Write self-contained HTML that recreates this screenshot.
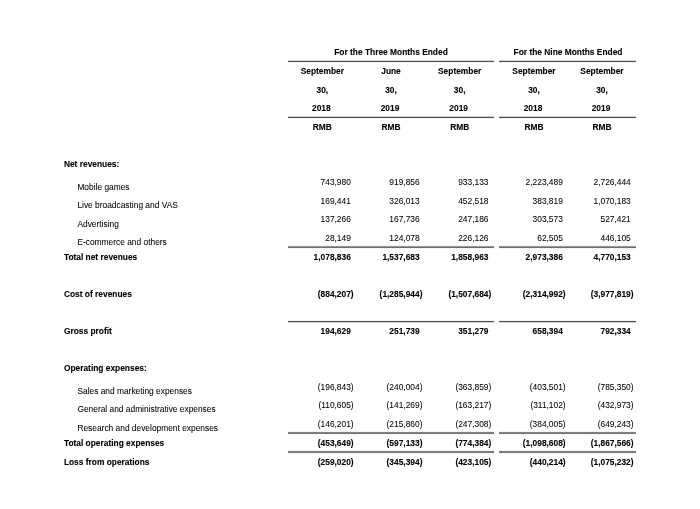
<!DOCTYPE html>
<html><head><meta charset="utf-8"><style>
html,body{margin:0;padding:0;background:#fff;-webkit-font-smoothing:antialiased;width:700px;height:509px;overflow:hidden}
.t{position:absolute;font-family:"Liberation Sans",sans-serif;font-size:8.4px;line-height:10px;white-space:nowrap;color:#000}
.b{font-weight:bold;-webkit-text-stroke:0.1px #000}
.r{font-weight:normal;color:#000;-webkit-text-stroke:0.06px #000}
.h{visibility:hidden}
.ln{position:absolute}
#w{position:absolute;left:0;top:0;width:700px;height:509px;will-change:transform}
</style></head><body><div id="w">
<div class="t b" style="left:291.00px;width:200px;text-align:center;top:47.00px;">For the Three Months Ended</div>
<div class="t b" style="left:468.00px;width:200px;text-align:center;top:47.00px;">For the Nine Months Ended</div>
<div class="ln" style="left:288px;width:206.0px;top:60px;height:1px;background:#d4d4d4"></div>
<div class="ln" style="left:288px;width:206.0px;top:61px;height:1px;background:#505050"></div>
<div class="ln" style="left:288px;width:206.0px;top:62px;height:1px;background:#f0f0f0"></div>
<div class="ln" style="left:499px;width:137.4px;top:60px;height:1px;background:#d4d4d4"></div>
<div class="ln" style="left:499px;width:137.4px;top:61px;height:1px;background:#505050"></div>
<div class="ln" style="left:499px;width:137.4px;top:62px;height:1px;background:#f0f0f0"></div>
<div class="t b" style="left:222.30px;width:200px;text-align:center;top:66.00px;">September</div>
<div class="t b" style="left:291.00px;width:200px;text-align:center;top:66.00px;">June</div>
<div class="t b" style="left:359.70px;width:200px;text-align:center;top:66.00px;">September</div>
<div class="t b" style="left:434.00px;width:200px;text-align:center;top:66.00px;">September</div>
<div class="t b" style="left:502.00px;width:200px;text-align:center;top:66.00px;">September</div>
<div class="t b" style="left:222.30px;width:200px;text-align:center;top:85.00px;">30,</div>
<div class="t b" style="left:291.00px;width:200px;text-align:center;top:85.00px;">30,</div>
<div class="t b" style="left:359.70px;width:200px;text-align:center;top:85.00px;">30,</div>
<div class="t b" style="left:434.00px;width:200px;text-align:center;top:85.00px;">30,</div>
<div class="t b" style="left:502.00px;width:200px;text-align:center;top:85.00px;">30,</div>
<div class="t b" style="left:221.30px;width:200px;text-align:center;top:103.00px;">2018</div>
<div class="t b" style="left:290.00px;width:200px;text-align:center;top:103.00px;">2019</div>
<div class="t b" style="left:358.70px;width:200px;text-align:center;top:103.00px;">2019</div>
<div class="t b" style="left:433.00px;width:200px;text-align:center;top:103.00px;">2018</div>
<div class="t b" style="left:501.00px;width:200px;text-align:center;top:103.00px;">2019</div>
<div class="ln" style="left:288px;width:206.0px;top:116px;height:1px;background:#cccccc"></div>
<div class="ln" style="left:288px;width:206.0px;top:117px;height:1px;background:#505050"></div>
<div class="ln" style="left:288px;width:206.0px;top:118px;height:1px;background:#f4f4f4"></div>
<div class="ln" style="left:499px;width:137.4px;top:116px;height:1px;background:#cccccc"></div>
<div class="ln" style="left:499px;width:137.4px;top:117px;height:1px;background:#505050"></div>
<div class="ln" style="left:499px;width:137.4px;top:118px;height:1px;background:#f4f4f4"></div>
<div class="t b" style="left:222.30px;width:200px;text-align:center;top:122.00px;">RMB</div>
<div class="t b" style="left:291.00px;width:200px;text-align:center;top:122.00px;">RMB</div>
<div class="t b" style="left:359.70px;width:200px;text-align:center;top:122.00px;">RMB</div>
<div class="t b" style="left:434.00px;width:200px;text-align:center;top:122.00px;">RMB</div>
<div class="t b" style="left:502.00px;width:200px;text-align:center;top:122.00px;">RMB</div>
<div class="t b" style="left:63.90px;top:159.00px;">Net revenues:</div>
<div class="t r" style="left:77.40px;top:182.00px;">Mobile games</div>
<div class="t r" style="left:153.65px;width:200px;text-align:right;top:177.00px;">743,980<span class="h">)</span></div>
<div class="t r" style="left:222.45px;width:200px;text-align:right;top:177.00px;">919,856<span class="h">)</span></div>
<div class="t r" style="left:291.25px;width:200px;text-align:right;top:177.00px;">933,133<span class="h">)</span></div>
<div class="t r" style="left:365.65px;width:200px;text-align:right;top:177.00px;">2,223,489<span class="h">)</span></div>
<div class="t r" style="left:433.55px;width:200px;text-align:right;top:177.00px;">2,726,444<span class="h">)</span></div>
<div class="t r" style="left:77.40px;top:200.00px;">Live broadcasting and VAS</div>
<div class="t r" style="left:153.65px;width:200px;text-align:right;top:195.60px;">169,441<span class="h">)</span></div>
<div class="t r" style="left:222.45px;width:200px;text-align:right;top:195.60px;">326,013<span class="h">)</span></div>
<div class="t r" style="left:291.25px;width:200px;text-align:right;top:195.60px;">452,518<span class="h">)</span></div>
<div class="t r" style="left:365.65px;width:200px;text-align:right;top:195.60px;">383,819<span class="h">)</span></div>
<div class="t r" style="left:433.55px;width:200px;text-align:right;top:195.60px;">1,070,183<span class="h">)</span></div>
<div class="t r" style="left:77.40px;top:218.60px;">Advertising</div>
<div class="t r" style="left:153.65px;width:200px;text-align:right;top:214.00px;">137,266<span class="h">)</span></div>
<div class="t r" style="left:222.45px;width:200px;text-align:right;top:214.00px;">167,736<span class="h">)</span></div>
<div class="t r" style="left:291.25px;width:200px;text-align:right;top:214.00px;">247,186<span class="h">)</span></div>
<div class="t r" style="left:365.65px;width:200px;text-align:right;top:214.00px;">303,573<span class="h">)</span></div>
<div class="t r" style="left:433.55px;width:200px;text-align:right;top:214.00px;">527,421<span class="h">)</span></div>
<div class="t r" style="left:77.40px;top:237.00px;">E-commerce and others</div>
<div class="t r" style="left:153.65px;width:200px;text-align:right;top:232.80px;">28,149<span class="h">)</span></div>
<div class="t r" style="left:222.45px;width:200px;text-align:right;top:232.80px;">124,078<span class="h">)</span></div>
<div class="t r" style="left:291.25px;width:200px;text-align:right;top:232.80px;">226,126<span class="h">)</span></div>
<div class="t r" style="left:365.65px;width:200px;text-align:right;top:232.80px;">62,505<span class="h">)</span></div>
<div class="t r" style="left:433.55px;width:200px;text-align:right;top:232.80px;">446,105<span class="h">)</span></div>
<div class="ln" style="left:288px;width:206.0px;top:245px;height:1px;background:#f6f6f6"></div>
<div class="ln" style="left:288px;width:206.0px;top:246px;height:1px;background:#9a9a9a"></div>
<div class="ln" style="left:288px;width:206.0px;top:247px;height:1px;background:#6c6c6c"></div>
<div class="ln" style="left:288px;width:206.0px;top:248px;height:1px;background:#f4f4f4"></div>
<div class="ln" style="left:499px;width:137.4px;top:245px;height:1px;background:#f6f6f6"></div>
<div class="ln" style="left:499px;width:137.4px;top:246px;height:1px;background:#9a9a9a"></div>
<div class="ln" style="left:499px;width:137.4px;top:247px;height:1px;background:#6c6c6c"></div>
<div class="ln" style="left:499px;width:137.4px;top:248px;height:1px;background:#f4f4f4"></div>
<div class="t b" style="left:63.90px;top:252.00px;">Total net revenues</div>
<div class="t b" style="left:153.65px;width:200px;text-align:right;top:252.00px;">1,078,836<span class="h">)</span></div>
<div class="t b" style="left:222.45px;width:200px;text-align:right;top:252.00px;">1,537,683<span class="h">)</span></div>
<div class="t b" style="left:291.25px;width:200px;text-align:right;top:252.00px;">1,858,963<span class="h">)</span></div>
<div class="t b" style="left:365.65px;width:200px;text-align:right;top:252.00px;">2,973,386<span class="h">)</span></div>
<div class="t b" style="left:433.55px;width:200px;text-align:right;top:252.00px;">4,770,153<span class="h">)</span></div>
<div class="t b" style="left:63.90px;top:289.20px;">Cost of revenues</div>
<div class="t b" style="left:153.65px;width:200px;text-align:right;top:289.40px;">(884,207)</div>
<div class="t b" style="left:222.45px;width:200px;text-align:right;top:289.40px;">(1,285,944)</div>
<div class="t b" style="left:291.25px;width:200px;text-align:right;top:289.40px;">(1,507,684)</div>
<div class="t b" style="left:365.65px;width:200px;text-align:right;top:289.40px;">(2,314,992)</div>
<div class="t b" style="left:433.55px;width:200px;text-align:right;top:289.40px;">(3,977,819)</div>
<div class="ln" style="left:288px;width:206.0px;top:320px;height:1px;background:#f4f4f4"></div>
<div class="ln" style="left:288px;width:206.0px;top:321px;height:1px;background:#505050"></div>
<div class="ln" style="left:288px;width:206.0px;top:322px;height:1px;background:#d0d0d0"></div>
<div class="ln" style="left:499px;width:137.4px;top:320px;height:1px;background:#f4f4f4"></div>
<div class="ln" style="left:499px;width:137.4px;top:321px;height:1px;background:#505050"></div>
<div class="ln" style="left:499px;width:137.4px;top:322px;height:1px;background:#d0d0d0"></div>
<div class="t b" style="left:63.90px;top:326.30px;">Gross profit</div>
<div class="t b" style="left:153.65px;width:200px;text-align:right;top:326.30px;">194,629<span class="h">)</span></div>
<div class="t b" style="left:222.45px;width:200px;text-align:right;top:326.30px;">251,739<span class="h">)</span></div>
<div class="t b" style="left:291.25px;width:200px;text-align:right;top:326.30px;">351,279<span class="h">)</span></div>
<div class="t b" style="left:365.65px;width:200px;text-align:right;top:326.30px;">658,394<span class="h">)</span></div>
<div class="t b" style="left:433.55px;width:200px;text-align:right;top:326.30px;">792,334<span class="h">)</span></div>
<div class="t b" style="left:63.90px;top:363.00px;">Operating expenses:</div>
<div class="t r" style="left:77.40px;top:386.20px;">Sales and marketing expenses</div>
<div class="t r" style="left:153.65px;width:200px;text-align:right;top:382.30px;">(196,843)</div>
<div class="t r" style="left:222.45px;width:200px;text-align:right;top:382.30px;">(240,004)</div>
<div class="t r" style="left:291.25px;width:200px;text-align:right;top:382.30px;">(363,859)</div>
<div class="t r" style="left:365.65px;width:200px;text-align:right;top:382.30px;">(403,501)</div>
<div class="t r" style="left:433.55px;width:200px;text-align:right;top:382.30px;">(785,350)</div>
<div class="t r" style="left:77.40px;top:404.40px;">General and administrative expenses</div>
<div class="t r" style="left:153.65px;width:200px;text-align:right;top:400.40px;">(110,605)</div>
<div class="t r" style="left:222.45px;width:200px;text-align:right;top:400.40px;">(141,269)</div>
<div class="t r" style="left:291.25px;width:200px;text-align:right;top:400.40px;">(163,217)</div>
<div class="t r" style="left:365.65px;width:200px;text-align:right;top:400.40px;">(311,102)</div>
<div class="t r" style="left:433.55px;width:200px;text-align:right;top:400.40px;">(432,973)</div>
<div class="t r" style="left:77.40px;top:422.60px;">Research and development expenses</div>
<div class="t r" style="left:153.65px;width:200px;text-align:right;top:418.80px;">(146,201)</div>
<div class="t r" style="left:222.45px;width:200px;text-align:right;top:418.80px;">(215,860)</div>
<div class="t r" style="left:291.25px;width:200px;text-align:right;top:418.80px;">(247,308)</div>
<div class="t r" style="left:365.65px;width:200px;text-align:right;top:418.80px;">(384,005)</div>
<div class="t r" style="left:433.55px;width:200px;text-align:right;top:418.80px;">(649,243)</div>
<div class="ln" style="left:288px;width:206.0px;top:431px;height:1px;background:#f4f4f4"></div>
<div class="ln" style="left:288px;width:206.0px;top:432px;height:1px;background:#808080"></div>
<div class="ln" style="left:288px;width:206.0px;top:433px;height:1px;background:#7a7a7a"></div>
<div class="ln" style="left:288px;width:206.0px;top:434px;height:1px;background:#f4f4f4"></div>
<div class="ln" style="left:499px;width:137.4px;top:431px;height:1px;background:#f4f4f4"></div>
<div class="ln" style="left:499px;width:137.4px;top:432px;height:1px;background:#808080"></div>
<div class="ln" style="left:499px;width:137.4px;top:433px;height:1px;background:#7a7a7a"></div>
<div class="ln" style="left:499px;width:137.4px;top:434px;height:1px;background:#f4f4f4"></div>
<div class="t b" style="left:63.90px;top:437.70px;">Total operating expenses</div>
<div class="t b" style="left:153.65px;width:200px;text-align:right;top:437.70px;">(453,649)</div>
<div class="t b" style="left:222.45px;width:200px;text-align:right;top:437.70px;">(597,133)</div>
<div class="t b" style="left:291.25px;width:200px;text-align:right;top:437.70px;">(774,384)</div>
<div class="t b" style="left:365.65px;width:200px;text-align:right;top:437.70px;">(1,098,608)</div>
<div class="t b" style="left:433.55px;width:200px;text-align:right;top:437.70px;">(1,867,566)</div>
<div class="ln" style="left:288px;width:206.0px;top:450px;height:1px;background:#f4f4f4"></div>
<div class="ln" style="left:288px;width:206.0px;top:451px;height:1px;background:#808080"></div>
<div class="ln" style="left:288px;width:206.0px;top:452px;height:1px;background:#7a7a7a"></div>
<div class="ln" style="left:288px;width:206.0px;top:453px;height:1px;background:#f4f4f4"></div>
<div class="ln" style="left:499px;width:137.4px;top:450px;height:1px;background:#f4f4f4"></div>
<div class="ln" style="left:499px;width:137.4px;top:451px;height:1px;background:#808080"></div>
<div class="ln" style="left:499px;width:137.4px;top:452px;height:1px;background:#7a7a7a"></div>
<div class="ln" style="left:499px;width:137.4px;top:453px;height:1px;background:#f4f4f4"></div>
<div class="t b" style="left:63.90px;top:457.00px;">Loss from operations</div>
<div class="t b" style="left:153.65px;width:200px;text-align:right;top:457.00px;">(259,020)</div>
<div class="t b" style="left:222.45px;width:200px;text-align:right;top:457.00px;">(345,394)</div>
<div class="t b" style="left:291.25px;width:200px;text-align:right;top:457.00px;">(423,105)</div>
<div class="t b" style="left:365.65px;width:200px;text-align:right;top:457.00px;">(440,214)</div>
<div class="t b" style="left:433.55px;width:200px;text-align:right;top:457.00px;">(1,075,232)</div>
</div></body></html>
